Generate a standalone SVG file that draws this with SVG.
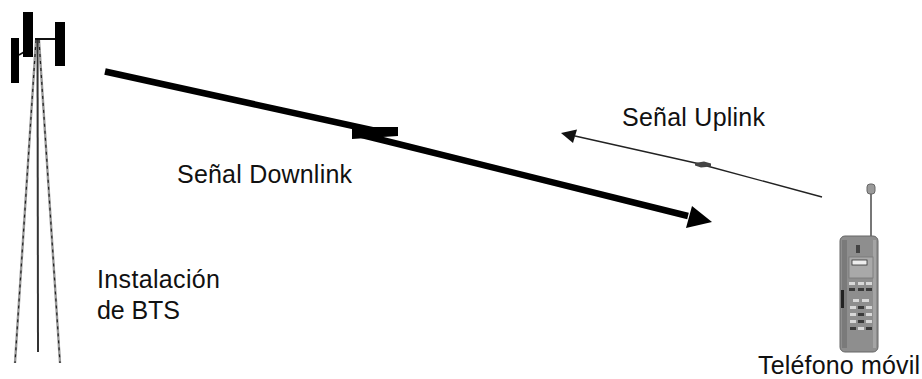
<svg xmlns="http://www.w3.org/2000/svg" width="922" height="379" viewBox="0 0 922 379">
  <style>
    .lbl { font-family: "Liberation Sans", Arial, sans-serif; font-size: 25px; fill: #111; }
    .leg { stroke: #9a9a9a; stroke-width: 2.4; fill: none; }
    .legdash { stroke: #222; stroke-width: 1.2; stroke-dasharray: 3 4; fill: none; }
    .panel { fill: #000; }
    .down { stroke: #000; stroke-width: 6.5; fill: none; }
    .up { stroke: #222; stroke-width: 1.4; fill: none; }
    .key { fill: #d8d8d8; }
    .keyd { fill: #3a3a3a; }
  </style>
  <rect width="922" height="379" fill="#fff"/>

  <!-- BTS tower -->
  <g id="bts">
    <path class="leg" d="M36 40 L15 363"/>
    <path class="legdash" d="M36 40 L15 363"/>
    <path class="leg" d="M39 40 L60 363"/>
    <path class="legdash" d="M39 40 L60 363"/>
    <line x1="37.5" y1="38" x2="38" y2="352" stroke="#333" stroke-width="2"/>
    <line x1="35" y1="39" x2="56" y2="39" stroke="#111" stroke-width="2"/>
    <line x1="19" y1="55" x2="24" y2="52" stroke="#111" stroke-width="1.5"/>
    <rect class="panel" x="11" y="38" width="8" height="45"/>
    <rect class="panel" x="23" y="12" width="10" height="45"/>
    <rect class="panel" x="55" y="22" width="10" height="44"/>
    <text class="lbl" x="97" y="288" textLength="123">Instalación</text>
    <text class="lbl" x="97" y="319" textLength="83">de BTS</text>
  </g>

  <!-- Mobile phone -->
  <g id="phone">
    <line x1="871" y1="192" x2="871" y2="239" stroke="#777" stroke-width="2"/>
    <rect x="867" y="184" width="8" height="10" rx="3" fill="#9a9a9a" stroke="#666" stroke-width="1"/>
    <rect x="840" y="236" width="38" height="116" rx="5" fill="#8e8e8e" stroke="#666" stroke-width="1"/>
    <rect x="842" y="240" width="5" height="108" fill="#7a7a7a"/>
    <rect x="873" y="240" width="3" height="108" fill="#a4a4a4"/>
    <rect x="856" y="245" width="4" height="8" fill="#444"/>
    <rect x="849" y="257" width="24" height="21" fill="#a9a9a9" stroke="#777" stroke-width="0.8"/>
    <rect x="852" y="260" width="15" height="5" fill="#eee" stroke="#333" stroke-width="0.8"/>
    <rect x="841" y="290" width="3" height="18" fill="#222"/>
    <!-- keypad -->
    <rect class="key" x="849" y="282" width="6" height="3"/>
    <rect class="key" x="858" y="282" width="6" height="3"/>
    <rect class="key" x="866" y="282" width="6" height="3"/>
    <rect class="keyd" x="849" y="288" width="6" height="3"/>
    <rect class="keyd" x="858" y="288" width="6" height="3"/>
    <rect class="keyd" x="866" y="288" width="6" height="3"/>
    <rect class="key" x="853" y="299" width="6" height="3"/>
    <rect class="key" x="862" y="299" width="7" height="3"/>
    <rect class="key" x="850" y="306" width="6" height="3"/>
    <rect class="keyd" x="858" y="306" width="6" height="3"/>
    <rect class="key" x="866" y="306" width="6" height="3"/>
    <rect class="key" x="850" y="313" width="6" height="3"/>
    <rect class="keyd" x="858" y="313" width="6" height="3"/>
    <rect class="key" x="866" y="313" width="6" height="3"/>
    <rect class="key" x="850" y="320" width="6" height="3"/>
    <rect class="keyd" x="858" y="320" width="6" height="3"/>
    <rect class="key" x="866" y="320" width="6" height="3"/>
    <rect class="keyd" x="850" y="327" width="6" height="3"/>
    <rect class="key" x="858" y="327" width="6" height="3"/>
    <rect class="keyd" x="866" y="327" width="6" height="3"/>
    <text class="lbl" x="758" y="374" textLength="162">Teléfono móvil</text>
  </g>

  <!-- Signal links -->
  <g id="connectors">
    <!-- downlink: thick arrow with jog -->
    <path class="down" d="M105 71.5 L376 131"/>
    <polygon points="352,127 398,127 398,136 352,139"/>
    <path class="down" d="M362 135 L688 216"/>
    <polygon points="712,222 692,206 686,228"/>
    <!-- uplink: thin arrow with jog -->
    <path class="up" d="M575 136 L700 164"/>
    <path class="up" d="M707 166 L822 197"/>
    <polygon points="695,163 704,161.5 711,163.5 711,166.5 701,167.5 695,165.5" fill="#444"/>
    <polygon points="561,133 577,129.5 573,143" fill="#111"/>
  </g>

  <text class="lbl" x="622" y="126" textLength="143">Señal Uplink</text>
  <text class="lbl" x="177" y="183" textLength="175">Señal Downlink</text>
</svg>
